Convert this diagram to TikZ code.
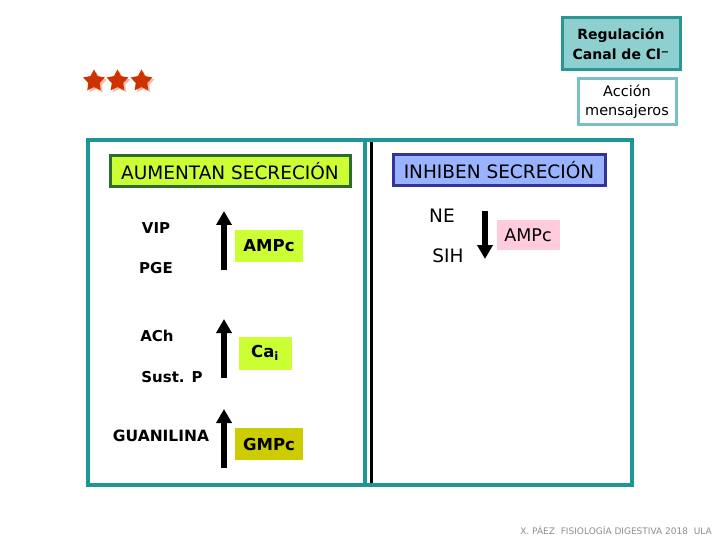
\documentclass[tikz,border=0pt]{standalone}
\usepackage{fontspec}
\setmainfont{DejaVu Sans}
\usetikzlibrary{arrows.meta,shapes.geometric}
\definecolor{tealframe}{HTML}{1E9696}
\definecolor{titlefill}{HTML}{8ECFCF}
\definecolor{titleedge}{HTML}{2A9696}
\definecolor{accedge}{HTML}{7ABFC4}
\definecolor{limefill}{HTML}{CCFF33}
\definecolor{limeedge}{HTML}{2E6B2E}
\definecolor{bluefill}{HTML}{99B3FF}
\definecolor{blueedge}{HTML}{333399}
\definecolor{pinkfill}{HTML}{FFCCDD}
\definecolor{olivefill}{HTML}{CCCC00}
\definecolor{starred}{HTML}{CC3300}
\definecolor{starshadow}{HTML}{FFB8A8}
\definecolor{footgray}{HTML}{8C8C8C}
\tikzset{
  lbl/.style={font=\fontsize{15}{17}\selectfont\bfseries, inner sep=0pt},
  rlbl/.style={font=\fontsize{18.5}{20}\selectfont, inner sep=0pt},
  bigarrow/.style={line width=5.5pt, -{Triangle[width=15pt,length=14pt]}},
  tagbox/.style={minimum width=68pt, minimum height=32pt, inner sep=0pt, font=\fontsize{16.5}{18}\selectfont\bfseries},
  headbox/.style={line width=3pt, inner xsep=2pt, minimum height=31pt, font=\fontsize{18.5}{20}\selectfont},
  starshape/.style={star, star points=5, star point ratio=1.9, minimum size=23pt, inner sep=0pt}
}
\begin{document}
\begin{tikzpicture}[x=1pt,y=-1pt]
\useasboundingbox (0,0) rectangle (720,540);
% frame
\draw[tealframe, line width=4pt] (88,140) rectangle (632,485);
\draw[tealframe, line width=4pt] (365,140) -- (365,485);
\draw[black, line width=3pt] (371,142) -- (371,483);
% title boxes
\node[draw=titleedge, fill=titlefill, line width=3pt, minimum width=118pt, minimum height=52pt, inner sep=0pt,
      align=center, font=\fontsize{14}{20}\selectfont\bfseries] (title) at (621,44) {Regulación\\Canal de Cl\raisebox{0.55ex}{\fontsize{10}{10}\selectfont −}};
\node[draw=accedge, fill=white, line width=3pt, minimum width=98pt, minimum height=46pt, inner sep=0pt,
      align=center, font=\fontsize{14.5}{19}\selectfont] (acc) at (627,102) {Acción\\mensajeros};
% stars
\foreach \i/\xx in {1/94,2/117.5,3/141.5}{
  \node[starshape, fill=starshadow] (sh\i) at (\xx+2,83) {};
  \node[starshape, fill=starred] (st\i) at (\xx,81) {};
}
% headers
\node[headbox, draw=limeedge, fill=limefill, minimum width=240pt] (aum) at (230,171) {AUMENTAN SECRECIÓN};
\node[headbox, draw=blueedge, fill=bluefill, minimum width=212pt] (inh) at (499,170) {INHIBEN SECRECIÓN};
% left labels
\node[lbl] (vip) at (156,228) {VIP};
\node[lbl] (pge) at (156,268) {PGE};
\node[lbl] (ach) at (157,336) {ACh};
\node[lbl] (sust) at (172,377) {Sust. P};
\node[lbl, font=\fontsize{15.5}{17}\selectfont\bfseries] (guan) at (161,436) {GUANILINA};
% arrows left
\coordinate (a1s) at (224,270); \coordinate (a1e) at (224,211);
\coordinate (a2s) at (224,378); \coordinate (a2e) at (224,319);
\coordinate (a3s) at (224,468); \coordinate (a3e) at (224,409);
\draw[bigarrow] (a1s) -- (a1e);
\draw[bigarrow] (a2s) -- (a2e);
\draw[bigarrow] (a3s) -- (a3e);
% tag boxes
\node[tagbox, fill=limefill] (ampc1) at (269,246) {AMPc};
\node[tagbox, fill=limefill, minimum width=53pt, minimum height=33pt] (cai) at (265,353) {Ca\textsubscript{i}};
\node[tagbox, fill=olivefill] (gmpc) at (269,444) {GMPc};
% right side
\node[rlbl] (ne) at (442,216) {NE};
\node[rlbl] (sih) at (448,256) {SIH};
\coordinate (a4s) at (485,211); \coordinate (a4e) at (485,259);
\draw[bigarrow] (a4s) -- (a4e);
\node[tagbox, fill=pinkfill, minimum width=63pt, minimum height=30pt, font=\fontsize{17.5}{19}\selectfont] (ampc2) at (528,235) {AMPc};
% footer
\node[font=\fontsize{9}{10}\selectfont, text=footgray, anchor=east, inner sep=0pt] (foot) at (712,530) {X. PÁEZ \ FISIOLOGÍA DIGESTIVA 2018 \ ULA};
\end{tikzpicture}
\end{document}
